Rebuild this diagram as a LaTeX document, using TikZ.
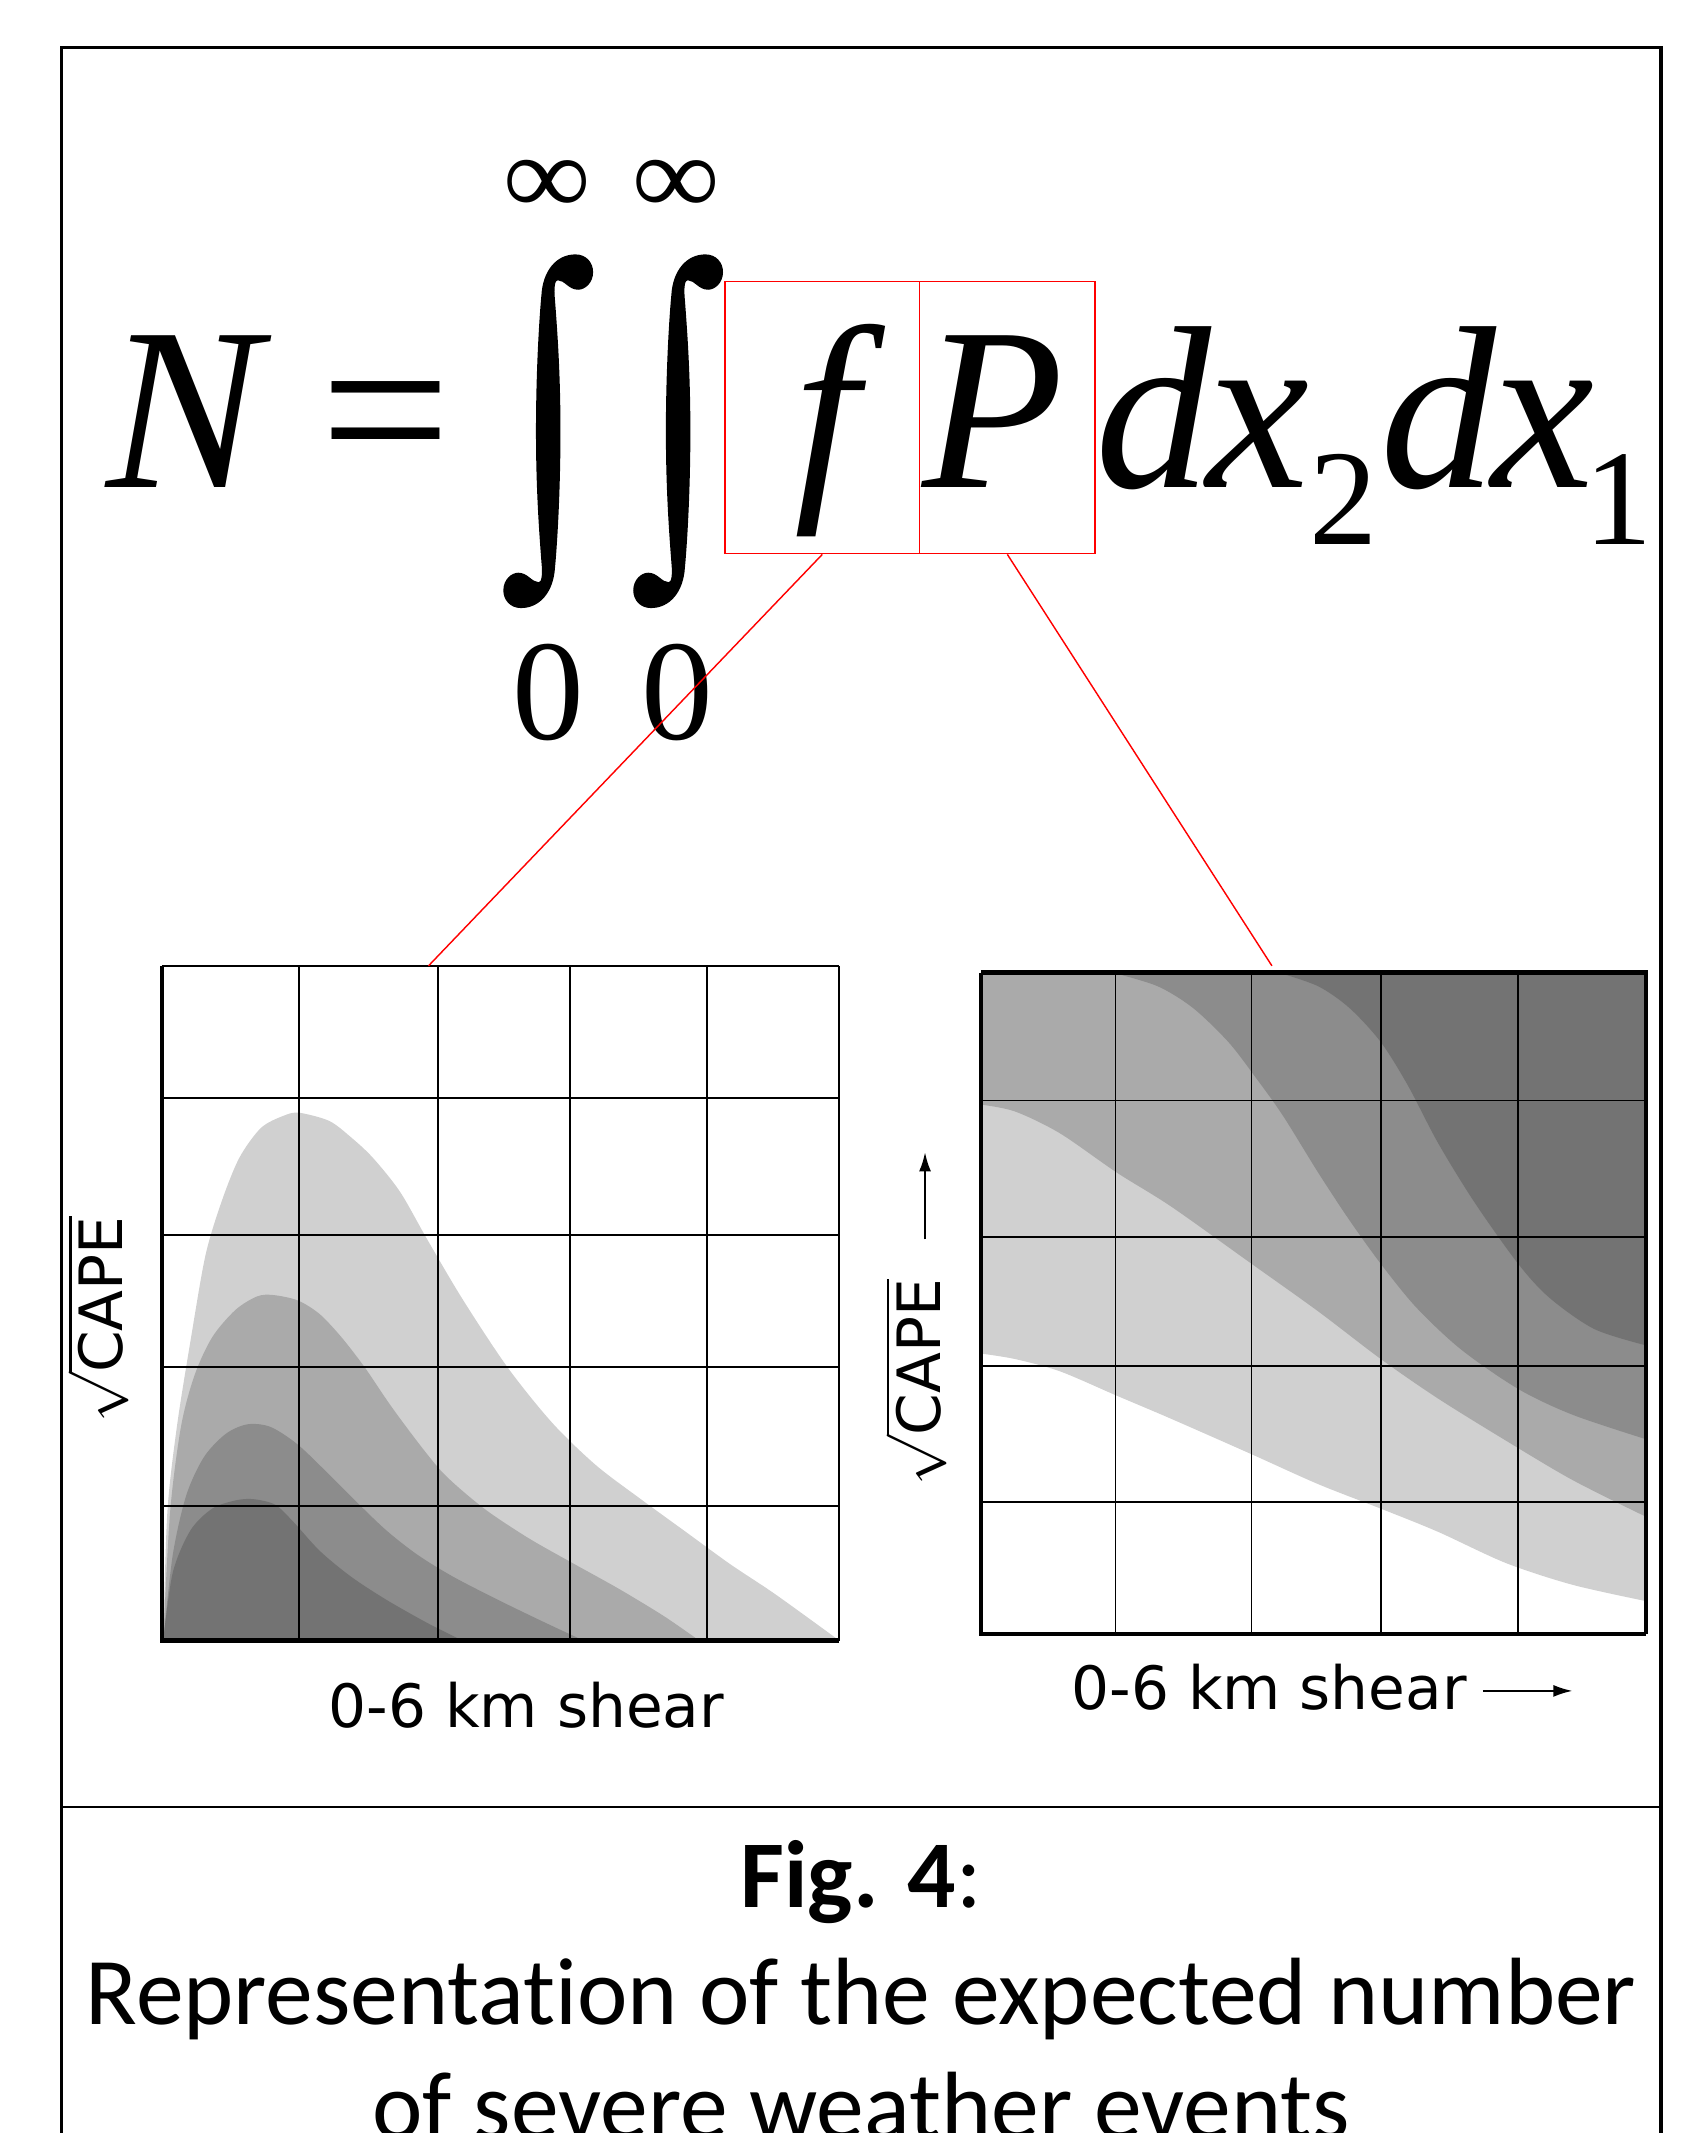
\RequirePackage{fix-cm}
\documentclass[tikz,border=0pt]{standalone}
\usepackage{graphicx}
\usepackage{fontspec}
\setmainfont{Liberation Serif}
\newfontfamily\eqfont{Liberation Serif}
\newfontfamily\labelfont{DejaVu Sans}
\newfontfamily\capfont[Ligatures=NoCommon]{Carlito}
\usetikzlibrary{arrows.meta,positioning,calc}

\definecolor{shadeA}{RGB}{208,208,208}
\definecolor{shadeB}{RGB}{170,170,170}
\definecolor{shadeC}{RGB}{140,140,140}
\definecolor{shadeD}{RGB}{115,115,115}

\begin{document}
\begin{tikzpicture}[
  x=0.02cm, y=-0.02cm,
  eq/.style={inner sep=0pt, anchor=base, font=\eqfont\fontsize{97}{100}\selectfont},
  limit/.style={inner sep=0pt, font=\eqfont\fontsize{60}{62}\selectfont},
  redbox/.style={draw=red, line width=0.6pt, inner sep=0pt, minimum height={200*0.02cm}},
  zoomline/.style={red, line width=0.6pt},
  gridline/.style={line width=0.8pt},
  axisline/.style={line width=1.8pt},
  axlabel/.style={font=\labelfont\fontsize{25}{27}\selectfont, inner sep=0pt},
  axarrow/.style={-{Latex[length=8pt, width=5pt]}, line width=0.9pt},
  caption/.style={font=\capfont\fontsize{40}{44}\selectfont, inner sep=0pt, anchor=base}
]
\useasboundingbox (0,0) rectangle (1245,1568);

% frame
\draw[line width=1.3pt] (45,1620) -- (45,35) -- (1221,35) -- (1221,1620);
\draw[line width=0.8pt] (45,1328) -- (1221,1328);

% equation
\node[eq] (lhs) at (135,358) {\itshape N};
\node[eq] (equals) at (284,358) {=};
\foreach \ix in {403,498.5}
  \fill[shift={(\ix,317)}] (-9,0) .. controls (-9,-50) and (-6,-90) .. (-5,-100)
    .. controls (-4,-118) and (6,-130) .. (20,-130)
    .. controls (28,-130) and (33,-124) .. (33,-117)
    .. controls (33,-109) and (27,-104) .. (22,-104)
    .. controls (15,-104) and (12,-111) .. (7,-111)
    .. controls (5,-111) and (4,-106) .. (5,-96)
    .. controls (7,-70) and (9,-40) .. (9,0)
    .. controls (9,50) and (6,90) .. (5,100)
    .. controls (4,118) and (-6,130) .. (-20,130)
    .. controls (-28,130) and (-33,124) .. (-33,117)
    .. controls (-33,109) and (-27,104) .. (-22,104)
    .. controls (-15,104) and (-12,111) .. (-7,111)
    .. controls (-5,111) and (-4,106) .. (-5,96)
    .. controls (-7,70) and (-9,40) .. (-9,0) -- cycle;
\node[inner sep=0pt] (infone) at (402.5,138) {\resizebox*{35.7pt}{22.7pt}{\eqfont\bfseries ∞}};
\node[inner sep=0pt] (inftwo) at (497,138) {\resizebox*{35.7pt}{22.7pt}{\eqfont\bfseries ∞}};
\node[limit] (zeroone) at (403,509) {0};
\node[limit] (zerotwo) at (498,509) {0};
\node[eq] (f) at (608,358) {\itshape f};
\node[eq] (P) at (730,358) {\itshape P};
\node[eq, anchor=base west] (dx) at (805,358) {\itshape d\kern-2pt x\raisebox{-24pt}{\upshape\fontsize{57}{60}\selectfont 2}\kern1pt d\kern-2pt x\kern-4pt\raisebox{-24pt}{\upshape\fontsize{57}{60}\selectfont 1}};

\node[redbox, minimum width={143*0.02cm}] (fbox) at (604.5,307) {};
\node[redbox, minimum width={129*0.02cm}] (Pbox) at (740.5,307) {};

% left plot: f
\fill[shadeA] plot[smooth, tension=0.5] coordinates {(120,1206) (123,1112) (130,1049) (140,986) (151,923) (163,883) (176,851) (192,829) (209,820) (220,818) (242,824) (258,836) (274,851) (294,876) (314,911) (340,955) (373,1005) (406,1046) (438,1077) (471,1102) (504,1126) (537,1150) (570,1172) (617,1206)} -- cycle;
\fill[shadeB] plot[smooth, tension=0.5] coordinates {(120,1206) (125,1112) (133,1049) (143,1011) (156,983) (173,963) (189,953) (201,952) (219,956) (235,966) (251,983) (268,1005) (287,1033) (307,1060) (324,1081) (340,1096) (360,1112) (389,1131) (419,1148) (455,1168) (488,1188) (514,1206)} -- cycle;
\fill[shadeC] plot[smooth, tension=0.5] coordinates {(120,1206) (127,1143) (137,1099) (150,1071) (166,1054) (182,1047) (199,1049) (219,1062) (242,1084) (261,1103) (284,1125) (307,1143) (333,1159) (366,1176) (399,1192) (429,1206)} -- cycle;
\fill[shadeD] plot[smooth, tension=0.5] coordinates {(120,1206) (127,1156) (140,1125) (156,1109) (173,1103) (186,1102) (202,1106) (215,1118) (235,1140) (258,1159) (284,1176) (314,1193) (340,1206)} -- cycle;
\foreach \gx in {220,322,419,520,617} \draw[gridline] (\gx,710) -- (\gx,1206);
\foreach \gy in {710,807,908,1005,1107} \draw[gridline] (119,\gy) -- (617,\gy);
\draw[axisline] (119,710) -- (119,1206) -- (617,1206);
\coordinate (ftop) at (315,710);

% right plot: P
\fill[shadeA] plot[smooth, tension=0.5] coordinates {(721,995) (746,999) (779,1008) (821,1026) (861,1043) (920,1069) (969,1091) (1015,1109) (1057,1126) (1107,1149) (1156,1165) (1210,1177)} -- (1210,715) -- (721,715) -- cycle;
\fill[shadeB] plot[smooth, tension=0.5] coordinates {(721,812) (746,817) (779,833) (821,862) (861,887) (920,929) (969,964) (1015,999) (1057,1028) (1107,1059) (1156,1088) (1210,1115)} -- (1210,715) -- (721,715) -- cycle;
\fill[shadeC] plot[smooth, tension=0.5] coordinates {(818,715) (851,725) (877,741) (903,766) (923,792) (943,820) (969,862) (992,897) (1015,929) (1041,961) (1074,992) (1116,1021) (1156,1040) (1210,1058)} -- (1210,715) -- cycle;
\fill[shadeD] plot[smooth, tension=0.5] coordinates {(940,715) (969,725) (992,741) (1015,766) (1035,798) (1057,840) (1084,884) (1116,929) (1139,954) (1172,977) (1210,989)} -- (1210,715) -- cycle;
\foreach \gx in {820,920,1015,1116} \draw[gridline] (\gx,715) -- (\gx,1201);
\foreach \gy in {809,909,1004,1104} \draw[gridline] (721,\gy) -- (1210,\gy);
\draw[axisline] (721,715) -- (1210,715) -- (1210,1201);
\draw[axisline] (721,715) -- (721,1201) -- (1210,1201);
\coordinate (Ptop) at (935,710);

% zoom lines
\draw[zoomline] (fbox.south) -- (ftop);
\draw[zoomline] (Pbox.south) -- (Ptop);

% axis labels
\node[axlabel, rotate=90] (fylabel) at (72,970) {$\sqrt{\mbox{CAPE}}$};
\node[axlabel, anchor=base] (fxlabel) at (387,1270) {0-6 km shear};
\node[axlabel, rotate=90] (Pylabel) at (673,1016) {$\sqrt{\mbox{CAPE}}$};
\node[axlabel, anchor=base] (Pxlabel) at (933,1257) {0-6 km shear};
\coordinate (upfrom) at (680,911);
\coordinate (upto) at (680,847);
\coordinate (rightfrom) at (1090,1243);
\coordinate (rightto) at (1156,1243);
\draw[axarrow] (upfrom) -- (upto);
\draw[axarrow] (rightfrom) -- (rightto);

% caption
\node[caption] (capnum) at (633,1402) {{\bfseries Fig. 4}:};
\node[caption] (capone) at (633,1488) {Representation of the expected number};
\node[caption] (captwo) at (633,1572) {of severe weather events};
\end{tikzpicture}
\end{document}
